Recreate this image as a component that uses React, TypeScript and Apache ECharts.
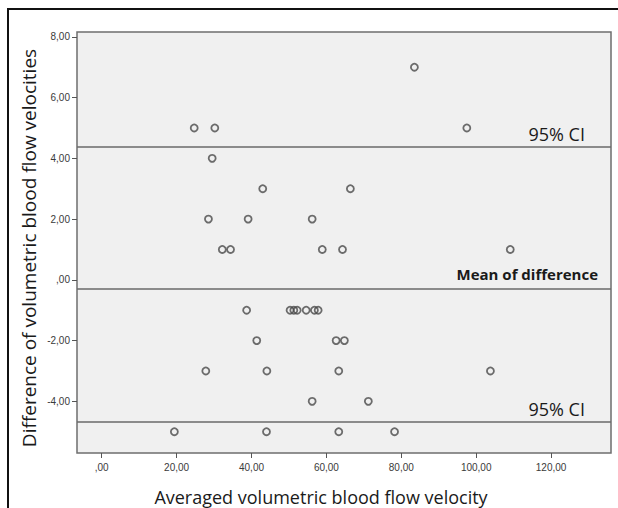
import React, { useEffect, useRef } from "react";
import * as echarts from "echarts";

// Averaged volumetric blood flow velocity (x) and difference (y)
const avgVelocity = [
  83.5, 24.7, 30.2, 97.5, 29.5, 43.0, 66.4, 28.5, 39.1, 56.2, 32.2, 34.4, 58.9,
  64.3, 109.1, 38.7, 50.3, 51.3, 52.2, 54.6, 56.8, 57.8, 41.4, 62.6, 64.8, 27.8,
  44.1, 63.3, 103.8, 56.2, 71.2, 19.4, 44.0, 63.3, 78.2,
];
const diffVelocity = [
  7, 5, 5, 5, 4, 3, 3, 2, 2, 2, 1, 1, 1, 1, 1, -1, -1, -1, -1, -1, -1, -1, -2,
  -2, -2, -3, -3, -3, -3, -4, -4, -5, -5, -5, -5,
];
const upperCI = 4.38;
const meanDiff = -0.28;
const lowerCI = -4.68;

const xTicks = [0, 20, 40, 60, 80, 100, 120];
const yTicks = [-4, -2, 0, 2, 4, 6, 8];

const fmt = (v: number) => (v === 0 ? ",00" : `${v},00`);

export default function App() {
  const ref = useRef<HTMLDivElement>(null);
  useEffect(() => {
    document.body.style.margin = "0";
    if (!ref.current) return;
    const chart = echarts.init(ref.current, null, { renderer: "svg" });
    const tickLabel = {
      fontFamily: "Liberation Sans, Arial",
      fontSize: 10,
      color: "#3a3a3a",
    };
    chart.setOption({
      animation: false,
      backgroundColor: "#fff",
      grid: {
        left: 77,
        top: 32,
        width: 534,
        height: 421,
        show: true,
        backgroundColor: "#f0f0f0",
        borderColor: "#6e6e6e",
        borderWidth: 1.5,
        containLabel: false,
        outerBoundsMode: "none",
      },
      xAxis: {
        type: "value",
        min: -6.6,
        max: 136,
        axisLine: { show: false, onZero: false },
        splitLine: { show: false },
        axisTick: {
          show: true,
          customValues: xTicks,
          length: 5,
          lineStyle: { color: "#555", width: 1 },
        },
        axisLabel: {
          customValues: xTicks,
          formatter: fmt,
          margin: 9,
          ...tickLabel,
        },
      },
      yAxis: {
        type: "value",
        min: -5.7,
        max: 8.16,
        axisLine: { show: false, onZero: false },
        splitLine: { show: false },
        axisTick: {
          show: true,
          customValues: yTicks,
          length: 5,
          lineStyle: { color: "#555", width: 1 },
        },
        axisLabel: {
          customValues: yTicks,
          formatter: fmt,
          margin: 7,
          ...tickLabel,
        },
      },
      series: [
        {
          type: "scatter",
          data: avgVelocity.map((x, i) => [x, diffVelocity[i]]),
          symbol: "circle",
          symbolSize: 7,
          itemStyle: {
            color: "rgba(0,0,0,0)",
            borderColor: "#4a4a4a",
            borderWidth: 1.8,
          },
          markLine: {
            silent: true,
            symbol: "none",
            label: { show: false },
            lineStyle: { color: "#6a6a6a", width: 1.5, type: "solid" },
            data: [{ yAxis: upperCI }, { yAxis: meanDiff }, { yAxis: lowerCI }],
          },
        },
      ],
      graphic: [
        {
          type: "line",
          shape: { x1: 7, y1: 9, x2: 618, y2: 9 },
          style: { stroke: "#111", lineWidth: 2 },
        },
        {
          type: "line",
          shape: { x1: 8, y1: 8, x2: 8, y2: 508 },
          style: { stroke: "#111", lineWidth: 2 },
        },
        {
          type: "text",
          x: 585,
          y: 134,
          style: {
            text: "95% CI",
            font: '18px "Open Sans"',
            fill: "#1a1a1a",
            textAlign: "right",
            textVerticalAlign: "middle",
          },
        },
        {
          type: "text",
          x: 598,
          y: 274,
          style: {
            text: "Mean of difference",
            font: 'bold 15px "Open Sans"',
            fill: "#1a1a1a",
            textAlign: "right",
            textVerticalAlign: "middle",
          },
        },
        {
          type: "text",
          x: 585,
          y: 409,
          style: {
            text: "95% CI",
            font: '18px "Open Sans"',
            fill: "#1a1a1a",
            textAlign: "right",
            textVerticalAlign: "middle",
          },
        },
        {
          type: "text",
          x: 29,
          y: 248,
          rotation: Math.PI / 2,
          style: {
            text: "Difference of volumetric blood flow velocities",
            font: '19px "Open Sans"',
            fill: "#1a1a1a",
            textAlign: "center",
            textVerticalAlign: "middle",
          },
        },
        {
          type: "text",
          x: 321,
          y: 497,
          style: {
            text: "Averaged volumetric blood flow velocity",
            font: '18px "Open Sans"',
            fill: "#1a1a1a",
            textAlign: "center",
            textVerticalAlign: "middle",
          },
        },
      ],
    });
    return () => chart.dispose();
  }, []);
  return <div ref={ref} style={{ width: 618, height: 508 }} />;
}
